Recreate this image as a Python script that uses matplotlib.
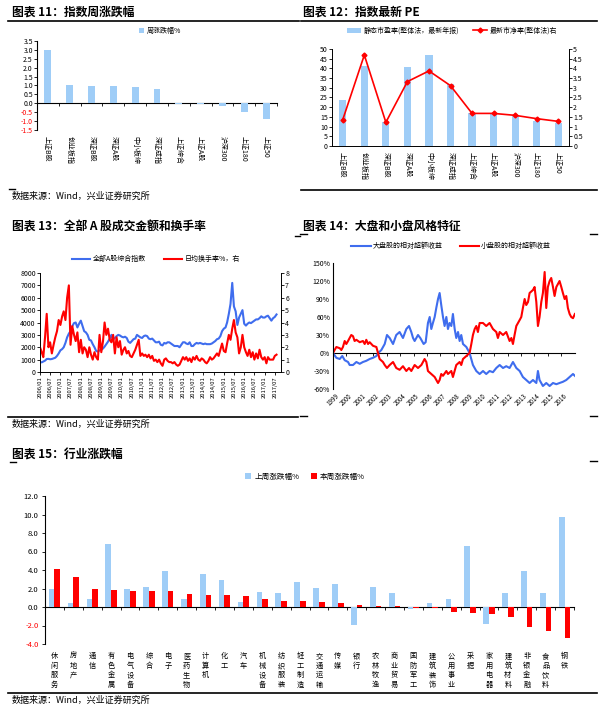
import numpy as np
import pandas as pd
import matplotlib
matplotlib.use('Agg')
import matplotlib.pyplot as plt
import matplotlib.dates as mdates
from matplotlib.lines import Line2D

plt.rcParams['font.family'] = ['Noto Sans CJK SC', 'DejaVu Sans']
plt.rcParams['axes.unicode_minus'] = False

# ---- 图表 11 / 12 data ----
idx_names = ["上证B股", "创业板指", "深证B股", "深证A股", "中小板综", "深证成指",
             "上证综合", "上证A股", "沪深300", "上证180", "上证50"]
week_chg = [3.02, 1.05, 0.99, 0.95, 0.93, 0.80, -0.03, -0.03, -0.13, -0.51, -0.89]
pe = [23.7, 41.2, 12.4, 40.5, 46.7, 31.8, 17.2, 17.2, 15.5, 13.1, 11.7]
pb = [1.36, 4.69, 1.22, 3.32, 3.87, 3.11, 1.68, 1.68, 1.58, 1.41, 1.27]

# ---- 图表 13 data (monthly, 2006/01 - 2017/08) ----
amt_idx = [
    800, 780, 850, 920, 1050, 1060, 1030, 1050, 1100, 1150, 1300, 1500,
    1750, 1850, 2000, 2350, 2800, 3100, 3300, 3700, 3950, 4000, 3600, 3900,
    4150, 3700, 3300, 3200, 3000, 2600, 2550, 2250, 2000, 1700, 1650, 1750,
    1800, 1900, 2050, 2250, 2450, 2700, 3000, 2650, 2750, 2900, 3000, 2950,
    2850, 2800, 2850, 2750, 2450, 2350, 2500, 2650, 2700, 3000, 2900, 2800,
    2750, 2900, 2950, 2900, 2700, 2650, 2700, 2550, 2400, 2400, 2450, 2200,
    2150, 2350, 2300, 2400, 2400, 2300, 2200, 2100, 2100, 2100, 2000, 2200,
    2400, 2400, 2300, 2250, 2400, 2100, 2100, 2250, 2350, 2300, 2350, 2300,
    2250, 2300, 2250, 2250, 2250, 2300, 2400, 2500, 2650, 2700, 2900, 3300,
    3500, 3600, 4000, 4700, 5500, 7200, 5300, 4900, 3800, 4400, 4700, 5000,
    3900, 3750, 3900, 4000, 3950, 4050, 4150, 4250, 4250, 4350, 4500, 4400,
    4400, 4500, 4550, 4350, 4150, 4350, 4450, 4650]
turnover = [
    2.0, 1.6, 1.2, 2.8, 4.7, 2.0, 2.4, 1.5, 2.2, 2.8, 3.3, 4.2,
    3.8, 4.5, 4.9, 4.2, 6.0, 7.0, 2.2, 3.7, 3.0, 2.5, 3.2, 1.6,
    2.6, 1.5, 2.0, 1.8, 1.2, 2.0, 1.4, 1.0, 1.6, 1.2, 1.0, 3.0,
    1.6, 2.5, 4.0, 3.0, 3.5, 2.6, 2.4, 3.0, 1.5, 2.8, 2.0, 2.5,
    1.4, 1.8, 2.0, 1.5, 1.7, 1.3, 1.2, 1.5, 1.8, 2.2, 2.6, 1.3,
    1.5, 1.3, 1.4, 1.2, 1.4, 1.1, 1.3, 0.9, 1.0, 0.8, 1.0, 0.7,
    0.5, 1.0, 1.1, 0.9, 0.8, 0.8, 0.7, 0.8, 0.6, 0.5, 0.6, 0.9,
    1.2, 1.0, 1.2, 0.9, 1.1, 0.8, 1.2, 1.0, 1.3, 1.0, 0.9, 1.1,
    1.0, 0.8, 0.7, 0.9, 1.2, 1.0, 1.1, 1.3, 1.5, 1.3, 1.8, 2.3,
    1.7, 1.6, 2.3, 3.0, 2.6, 3.5, 4.2, 3.2, 2.8, 1.5, 2.0, 3.0,
    2.0, 1.6, 1.3, 1.8, 1.2, 1.6, 1.0, 1.5, 1.1, 1.8, 1.2, 1.0,
    1.2, 0.7, 1.2, 1.0, 1.0, 1.0, 1.3, 1.4]

# ---- 图表 14 data ----
big_years = [1999.00, 1999.25, 1999.50, 1999.69, 1999.87, 2000.12, 2000.24, 2000.49,
             2000.74, 2000.99, 2001.23, 2001.48, 2001.73, 2001.98, 2002.23, 2002.37,
             2002.60, 2002.85, 2003.02, 2003.22, 2003.47, 2003.71, 2003.96, 2004.21,
             2004.46, 2004.66, 2004.83, 2004.96, 2005.08, 2005.33, 2005.50, 2005.75,
             2005.90, 2006.07, 2006.20, 2006.32, 2006.44, 2006.57, 2006.69, 2006.82,
             2006.94, 2007.06, 2007.19, 2007.31, 2007.44, 2007.56, 2007.68, 2007.81,
             2007.93, 2008.06, 2008.18, 2008.31, 2008.43, 2008.55, 2008.68, 2008.93,
             2009.17, 2009.42, 2009.67, 2009.92, 2010.17, 2010.41, 2010.66, 2010.91,
             2011.16, 2011.41, 2011.66, 2011.90, 2012.15, 2012.40, 2012.65, 2012.90,
             2013.14, 2013.39, 2013.64, 2013.89, 2014.14, 2014.26, 2014.38, 2014.63,
             2014.88, 2015.13, 2015.38, 2015.63, 2015.87, 2016.12, 2016.37, 2016.62,
             2016.87, 2017.01]
big_ret = [0, -8, -10, -5, -12, -15, -20, -20, -15, -18, -15, -13, -10, -8, -5, 0,
           5, 15, 30, 25, 15, 30, 35, 25, 40, 45, 35, 25, 20, 30, 25, 15,
           18, 50, 60, 40, 50, 60, 75, 90, 100, 80, 60, 45, 60, 40, 50, 45,
           65, 40, 25, 35, 20, 30, 15, 10, 0, -20, -30, -35, -30, -35, -30, -32,
           -25, -20, -25, -22, -25, -15, -25, -30, -40, -45, -50, -45, -50, -30, -45, -55,
           -50, -55, -50, -52, -50, -48, -45, -40, -35, -38]
small_years = [1999.00, 1999.12, 1999.25, 1999.50, 1999.62, 1999.74, 1999.87, 1999.99,
               2000.12, 2000.24, 2000.36, 2000.49, 2000.61, 2000.74, 2000.99, 2001.23,
               2001.36, 2001.48, 2001.61, 2001.73, 2001.98, 2002.23, 2002.35, 2002.47,
               2002.72, 2002.85, 2003.02, 2003.22, 2003.47, 2003.71, 2003.96, 2004.21,
               2004.46, 2004.66, 2004.83, 2005.08, 2005.33, 2005.58, 2005.82, 2005.95,
               2006.07, 2006.32, 2006.57, 2006.82, 2006.94, 2007.06, 2007.19, 2007.44,
               2007.56, 2007.81, 2007.93, 2008.18, 2008.43, 2008.55, 2008.68, 2008.93,
               2009.17, 2009.30, 2009.42, 2009.55, 2009.67, 2009.79, 2009.92, 2010.17,
               2010.41, 2010.66, 2010.91, 2011.16, 2011.28, 2011.41, 2011.66, 2011.90,
               2012.15, 2012.28, 2012.40, 2012.52, 2012.65, 2012.90, 2013.02, 2013.14,
               2013.27, 2013.39, 2013.52, 2013.64, 2013.89, 2014.01, 2014.14, 2014.26,
               2014.38, 2014.51, 2014.63, 2014.76, 2014.88, 2015.00, 2015.13, 2015.25,
               2015.38, 2015.50, 2015.63, 2015.75, 2015.87, 2016.00, 2016.12, 2016.25,
               2016.37, 2016.49, 2016.62, 2016.74, 2016.87, 2017.01]
small_ret = [0, 5, 10, 8, 5, 10, 20, 15, 20, 25, 30, 28, 20, 22, 18, 20,
             15, 22, 15, 18, 12, 10, 0, -10, -15, -20, -25, -20, -15, -25, -28, -22,
             -30, -25, -30, -20, -25, -20, -10, -15, -30, -35, -40, -50, -45, -35, -38, -30,
             -35, -30, -40, -20, -15, -20, -10, -5, 0, 15, 30, 40, 45, 35, 50, 50,
             45, 50, 40, 35, 25, 35, 30, 35, 20, 25, 15, 30, 45, 55, 60, 75,
             90, 80, 85, 100, 105, 110, 85, 45, 60, 85, 100, 135, 75, 110, 120, 125,
             110, 95, 110, 115, 120, 110, 100, 90, 95, 75, 65, 60, 58, 65]

# ---- 图表 15 data ----
industries = ["休闲服务", "房地产", "通信", "有色金属", "电气设备", "综合", "电子",
              "医药生物", "计算机", "化工", "汽车", "机械设备", "纺织服装", "轻工制造",
              "交通运输", "传媒", "银行", "农林牧渔", "商业贸易", "国防军工", "建筑装饰",
              "公用事业", "采掘", "家用电器", "建筑材料", "非银金融", "食品饮料", "钢铁"]
last_week = [1.9, 0.45, 0.9, 6.85, 1.9, 2.2, 3.85, 0.9, 3.6, 2.95, 0.55, 1.65, 1.55, 2.65,
             2.1, 2.45, -1.9, 2.2, 1.55, -0.25, 0.45, 0.9, 6.6, -1.8, 1.55, 3.9, 1.55, 9.7]
this_week = [4.15, 3.2, 1.9, 1.8, 1.7, 1.7, 1.7, 1.45, 1.35, 1.25, 1.15, 0.9, 0.7, 0.6,
             0.5, 0.45, 0.25, 0.15, 0.1, -0.15, -0.15, -0.5, -0.6, -0.8, -1.05, -2.2, -2.55, -3.3]

LB = '#9FCDF7'
RED = '#FF0000'
BLUE = '#3F6DEE'
W, H = 603, 710


def rect(l, t, r, b):
    return [l / W, 1 - b / H, (r - l) / W, (b - t) / H]


fig = plt.figure(figsize=(6.03, 7.10), dpi=100)


def hline(x0, x1, y, lw=1.0):
    fig.add_artist(Line2D([x0 / W, x1 / W], [1 - y / H, 1 - y / H], color='black', lw=lw))


def title(x, y, s):
    fig.text(x / W, 1 - y / H, s, fontsize=8.5, fontweight='bold', va='center')


def source(x, y):
    fig.text(x / W, 1 - y / H, '数据来源：Wind，兴业证券研究所', fontsize=6.5, va='center')


def red_neg(ax, ticks):
    for t, v in zip(ax.get_yticklabels(), ticks):
        if v < 0:
            t.set_color('red')


# ================= 图表 11 =================
title(12, 12, '图表 11：指数周涨跌幅')
hline(8, 299, 20.5, 1.2)
ax1 = fig.add_axes(rect(37, 41, 277, 130))
x1 = np.arange(len(idx_names))
ax1.bar(x1, week_chg, width=0.32, color=LB, label='周涨跌幅%')
ax1.set_xlim(-0.5, len(idx_names) - 0.5)
ax1.set_ylim(-1.5, 3.5)
yt = np.arange(-1.5, 3.51, 0.5)
ax1.set_yticks(yt, [f'{v:.1f}' for v in yt])
red_neg(ax1, yt)
ax1.set_xticks(x1, idx_names, rotation=270)
ax1.tick_params(axis='x', length=0, pad=4, labelsize=5)
ax1.tick_params(axis='y', labelsize=5, length=2, width=0.6, pad=1)
for s in ['top', 'right', 'bottom']:
    ax1.spines[s].set_visible(False)
ax1.spines['left'].set_linewidth(0.8)
sec1 = ax1.secondary_xaxis(1.5 / 5)
sec1.set_xticks(np.arange(-0.5, len(idx_names), 1))
sec1.tick_params(axis='x', labelbottom=False, length=2.5, width=0.6)
sec1.spines['bottom'].set_linewidth(0.8)
ax1.legend(loc='center', bbox_to_anchor=(160 / W, 1 - 31 / H), bbox_transform=fig.transFigure,
           frameon=False, fontsize=5, handlelength=0.8, handleheight=0.8, handletextpad=0.4)
hline(9, 15, 189, 1.0)
source(12, 196)

# ================= 图表 12 =================
title(303, 12, '图表 12：指数最新 PE')
hline(301, 597, 20.5, 1.2)
ax2 = fig.add_axes(rect(332, 49, 569, 146))
b2 = ax2.bar(x1, pe, width=0.33, color=LB, label='静态市盈率(整体法，最新年报)')
ax2.set_xlim(-0.5, len(idx_names) - 0.5)
ax2.set_ylim(0, 50)
ax2.set_yticks(np.arange(0, 51, 5))
ax2b = ax2.twinx()
l2, = ax2b.plot(x1, pb, color=RED, lw=1.2, marker='D', ms=2.5, label='最新市净率(整体法)右')
ax2b.set_ylim(0, 5)
yt2 = np.arange(0, 5.01, 0.5)
ax2b.set_yticks(yt2, [f'{v:g}' for v in yt2])
ax2.set_xticks(x1, idx_names, rotation=270)
ax2.tick_params(axis='x', length=0, pad=4, labelsize=5)
ax2.tick_params(axis='y', labelsize=5, length=2, width=0.6, pad=1)
ax2b.tick_params(axis='y', labelsize=5, length=2, width=0.6, pad=1)
for a in (ax2, ax2b):
    a.spines['top'].set_visible(False)
    for s in ['left', 'right', 'bottom']:
        a.spines[s].set_linewidth(0.6)
ax2.legend(handles=[b2, l2], loc='center', bbox_to_anchor=(452 / W, 1 - 31 / H),
           bbox_transform=fig.transFigure, ncol=2, frameon=False, fontsize=5,
           handlelength=2.0, handleheight=0.8, handletextpad=0.4, columnspacing=2.0)
hline(301, 597, 189.5, 1.2)

# ================= 图表 13 =================
title(12, 227, '图表 13：全部 A 股成交金额和换手率')
hline(295, 300, 236, 1.0)
dates = pd.date_range('2006-01-01', periods=len(amt_idx), freq='MS')
ax3 = fig.add_axes(rect(40, 273, 281, 372))
l3a, = ax3.plot(dates, amt_idx, color=BLUE, lw=1.5, label='全部A股综合指数')
ax3b = ax3.twinx()
l3b, = ax3b.plot(dates, turnover, color=RED, lw=1.5, label='日均换手率%，右')
ax3.set_ylim(0, 8000)
ax3.set_yticks(np.arange(0, 8001, 1000))
ax3b.set_ylim(0, 8)
ax3b.set_yticks(np.arange(0, 9, 1))
ax3.set_xlim(dates[0], pd.Timestamp('2017-10-20'))
ax3.xaxis.set_major_locator(mdates.MonthLocator(bymonth=[1, 7]))
ax3.xaxis.set_major_formatter(mdates.DateFormatter('%Y/%m'))
ax3.tick_params(axis='x', labelsize=4.2, labelrotation=90, length=2, width=0.6, pad=1)
ax3.tick_params(axis='y', labelsize=5, length=2, width=0.6, pad=1)
ax3b.tick_params(axis='y', labelsize=5, length=2, width=0.6, pad=1)
for a in (ax3, ax3b):
    a.spines['top'].set_visible(False)
    for s in ['left', 'right', 'bottom']:
        a.spines[s].set_linewidth(0.6)
ax3.legend(handles=[l3a, l3b], loc='center', bbox_to_anchor=(156 / W, 1 - 259 / H),
           bbox_transform=fig.transFigure, ncol=2, frameon=False, fontsize=5,
           handlelength=2.6, handletextpad=0.4, columnspacing=2.5)
hline(8, 298, 417, 1.2)
source(12, 424)

# ================= 图表 14 =================
title(303, 226, '图表 14：大盘和小盘风格特征')
for xa, xb in [(300, 307), (590, 597)]:
    hline(xa, xb, 234, 1.0)
    hline(xa, xb, 416, 1.0)
ax4 = fig.add_axes(rect(333, 263, 575, 389))
ax4.plot(big_years, big_ret, color=BLUE, lw=1.5, label='大盘股的相对超额收益')
ax4.plot(small_years, small_ret, color=RED, lw=1.5, label='小盘股的相对超额收益')
ax4.set_xlim(1999, 2017.02)
ax4.set_ylim(-60, 150)
yt4 = np.arange(-60, 151, 30)
ax4.set_yticks(yt4, [f'{v}%' for v in yt4])
years = np.arange(1999, 2017)
ax4.set_xticks(years, [str(y) for y in years], rotation=45)
ax4.tick_params(axis='x', length=0, labelsize=4.5, pad=2)
ax4.tick_params(axis='y', labelsize=5, length=0, pad=2)
for s in ['top', 'right', 'bottom']:
    ax4.spines[s].set_visible(False)
ax4.spines['left'].set_linewidth(0.8)
sec4 = ax4.secondary_xaxis(60 / 210)
sec4.set_xticks(years)
sec4.tick_params(axis='x', labelbottom=False, length=2.5, width=0.6)
sec4.spines['bottom'].set_linewidth(0.8)
ax4.legend(loc='center', bbox_to_anchor=(451 / W, 1 - 246 / H), bbox_transform=fig.transFigure,
           ncol=2, frameon=False, fontsize=5, handlelength=2.8, handletextpad=0.2,
           columnspacing=2.5)

# ================= 图表 15 =================
title(12, 455, '图表 15：行业涨跌幅')
hline(10, 16, 462, 1.0)
hline(590, 597, 461, 1.0)
ax5 = fig.add_axes(rect(45, 496, 574, 644))
x5 = np.arange(len(industries))
ax5.bar(x5 - 0.15, last_week, width=0.3, color=LB, label='上周涨跌幅%')
ax5.bar(x5 + 0.15, this_week, width=0.3, color=RED, label='本周涨跌幅%')
ax5.set_xlim(-0.5, len(industries) - 0.5)
ax5.set_ylim(-4, 12)
yt5 = np.arange(-4, 12.1, 2)
ax5.set_yticks(yt5, [f'{v:.1f}' for v in yt5])
red_neg(ax5, yt5)
ax5.set_xticks(x5, ['\n'.join(n) for n in industries])
ax5.tick_params(axis='x', length=0, pad=6, labelsize=5.2)
for t in ax5.get_xticklabels():
    t.set_linespacing(1.25)
ax5.tick_params(axis='y', labelsize=5.5, length=2.5, width=0.6, pad=2)
for s in ['top', 'right', 'bottom']:
    ax5.spines[s].set_visible(False)
ax5.spines['left'].set_linewidth(0.8)
sec5 = ax5.secondary_xaxis(4 / 16)
sec5.set_xticks(np.arange(-0.5, len(industries), 1))
sec5.tick_params(axis='x', labelbottom=False, length=2.5, width=0.6)
sec5.spines['bottom'].set_linewidth(0.8)
ax5.legend(loc='center', bbox_to_anchor=(305 / W, 1 - 477 / H), bbox_transform=fig.transFigure,
           ncol=2, frameon=False, fontsize=5.5, handlelength=0.8, handleheight=0.8,
           handletextpad=0.4, columnspacing=1.5)
hline(8, 597, 693, 1.2)
source(12, 700)

fig.savefig('out.png', dpi=100)
